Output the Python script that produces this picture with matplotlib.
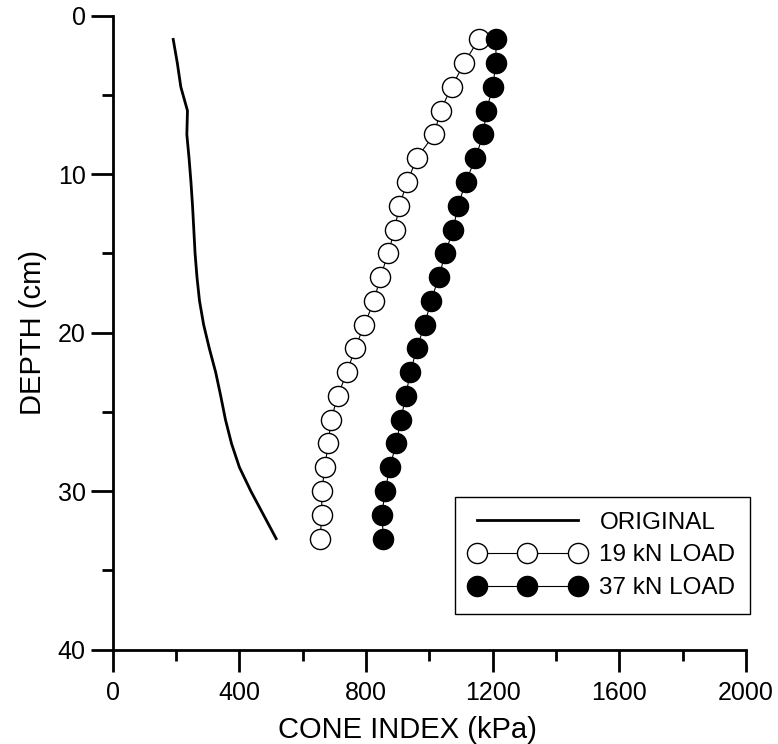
import numpy as np
from matplotlib import pyplot as plt

plt.rcParams['font.family'] = ['Liberation Sans', 'DejaVu Sans']

# depth (cm) and cone index (kPa)
depth = [1.5, 3, 4.5, 6, 7.5, 9, 10.5, 12, 13.5, 15, 16.5,
         18, 19.5, 21, 22.5, 24, 25.5, 27, 28.5, 30, 31.5, 33]
original = [191, 204, 215, 236, 234, 241, 247, 252, 256, 260, 266,
            274, 287, 305, 325, 341, 356, 375, 400, 436, 476, 516]
load19 = [1155, 1110, 1070, 1035, 1015, 960, 930, 905, 890, 870, 845,
          825, 795, 765, 740, 710, 690, 680, 670, 660, 660, 655]
load37 = [1210, 1210, 1200, 1180, 1170, 1145, 1115, 1090, 1075, 1050, 1030,
          1005, 985, 960, 940, 925, 910, 895, 875, 860, 850, 855]

fig = plt.figure(figsize=(7.78, 7.44), dpi=100)
ax = fig.add_axes([0.1449, 0.127, 0.8141, 0.852])

ax.plot(original, depth, color='k', lw=2, label="ORIGINAL")
ax.plot(load19, depth, color='k', lw=0.8, marker='o', markersize=14.5,
        markerfacecolor='white', markeredgecolor='k', markeredgewidth=1.0,
        label="19 kN LOAD")
ax.plot(load37, depth, color='k', lw=0.8, marker='o', markersize=14.5,
        markerfacecolor='k', markeredgecolor='k', label="37 kN LOAD")

ax.set_xlim(0, 2000)
ax.set_ylim(40, 0)
ax.set_xticks([0, 400, 800, 1200, 1600, 2000])
ax.set_xticks(np.arange(200, 2000, 400), minor=True)
ax.set_yticks([0, 10, 20, 30, 40])
ax.set_yticks([5, 15, 25, 35], minor=True)

for s in ['top', 'right']:
    ax.spines[s].set_visible(False)
for s in ['left', 'bottom']:
    ax.spines[s].set_linewidth(2)

ax.tick_params(which='major', length=16, width=2, labelsize=18)
ax.tick_params(which='minor', length=8, width=2)
ax.tick_params(axis='x', which='major', pad=7)
ax.tick_params(axis='y', which='major', pad=3.5)

ax.set_xlabel("CONE INDEX (kPa)", fontsize=21)
ax.xaxis.set_label_coords(0.465, -0.105)
ax.set_ylabel("DEPTH (cm)", fontsize=21, labelpad=8)

leg = ax.legend(loc='lower right', bbox_to_anchor=(0.964, 0.1747),
                bbox_transform=fig.transFigure, borderaxespad=0,
                fontsize=17.5, numpoints=3, handlelength=4.75, handletextpad=0.6,
                fancybox=False, framealpha=1, edgecolor='k',
                labelspacing=0.45, borderpad=0.6)
leg.get_frame().set_linewidth(1)

plt.savefig("out.png", dpi=100)
